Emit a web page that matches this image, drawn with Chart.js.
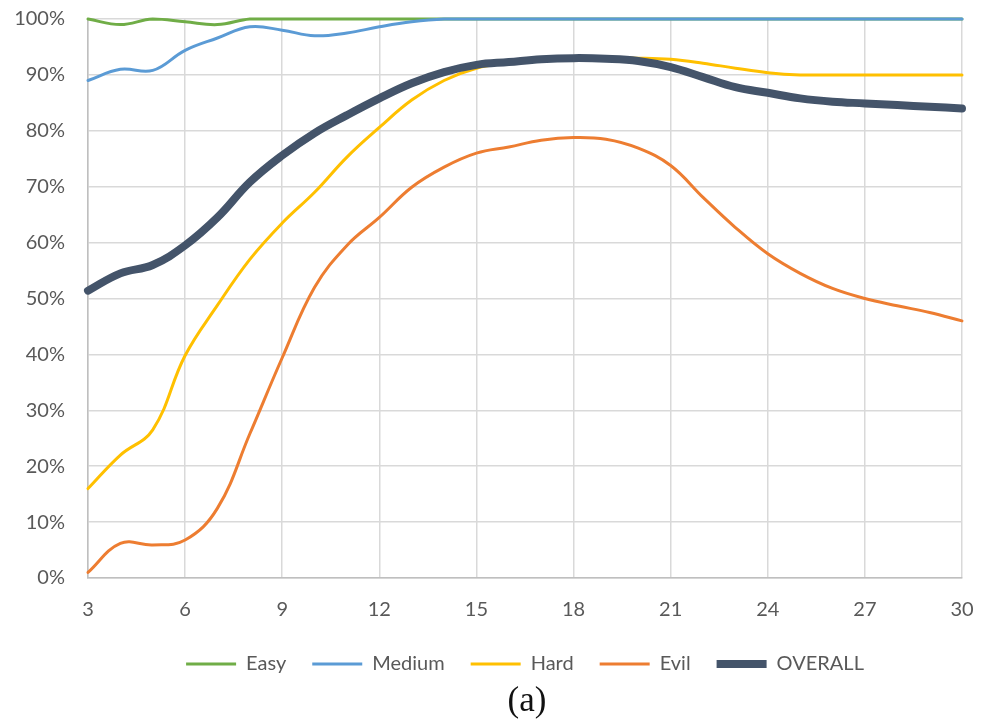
<!DOCTYPE html>
<html>
<head>
<meta charset="utf-8">
<script src="https://cdn.jsdelivr.net/npm/chart.js@4"></script>
<style>
  body { margin: 0; background: #fff; }
  #wrap { position: relative; width: 989px; height: 726px; }
  #box { position: absolute; left: 0; top: 0; width: 989px; height: 684px; }
  #caption { position: absolute; left: 0; width: 1054px; top: 680px; text-align: center;
             font-family: "Liberation Serif", "DejaVu Serif", serif; font-size: 35px; color: #111; }
</style>
</head>
<body>
<div id="wrap">
  <div id="box"><canvas id="chart"></canvas></div>
  <div id="caption">(a)</div>
</div>
<script>
// x values (3..30)
const xs = [3,4,5,6,7,8,9,10,11,12,13,14,15,16,17,18,19,20,21,22,23,24,25,26,27,28,29,30];

// percentages
const easy    = [100,99,100,99.5,99,100,100,100,100,100,100,100,100,100,100,100,100,100,100,100,100,100,100,100,100,100,100,100];
const medium  = [89,91,90.8,94.4,96.6,98.6,98,97,97.5,98.6,99.5,100,100,100,100,100,100,100,100,100,100,100,100,100,100,100,100,100];
const hard    = [16,22,26.5,39.8,48.8,57,63.5,69,75.3,80.6,85.5,89,91.2,92.1,92.6,93,93,93,92.8,92.1,91.2,90.4,90,90,90,90,90,90];
const evil    = [1,6.2,5.9,6.8,12.5,25.8,39.4,52,59.5,64.5,69.9,73.5,76,77.1,78.3,78.8,78.5,76.9,73.8,68.1,62.7,58,54.5,51.8,50,48.7,47.5,46];
const overall = [51.4,54.5,56,59.5,64.5,70.8,75.6,79.6,82.8,85.8,88.5,90.5,91.8,92.3,92.8,93,92.9,92.5,91.4,89.6,87.8,86.8,85.8,85.2,84.9,84.6,84.3,84];

const tickFont = { family: "Lato, 'Open Sans', sans-serif", size: 20 };
const textColor = '#595959';

function pts(arr) {
  return xs.map((x, i) => ({ x: x, y: arr[i] }));
}

function line(label, arr, color, width) {
  return {
    label: label,
    data: pts(arr),
    borderColor: color,
    backgroundColor: color,
    borderWidth: width,
    borderCapStyle: 'round',
    borderJoinStyle: 'round',
    pointRadius: 0,
    tension: 0.4,
    fill: false,
    clip: 6,
    pointStyle: 'line'
  };
}

// listed top-to-bottom in drawing order; the legend is reversed
const datasets = [
  line('OVERALL', overall, '#44546a', 8),
  line('Evil', evil, '#ed7d31', 3),
  line('Hard', hard, '#ffc000', 3),
  line('Medium', medium, '#5b9bd5', 3),
  line('Easy', easy, '#70ad47', 3)
];

new Chart(document.getElementById('chart'), {
  type: 'line',
  data: { datasets: datasets },
  options: {
    responsive: true,
    maintainAspectRatio: false,
    animation: false,
    layout: { padding: { top: 19, right: 27, left: 0, bottom: 0 } },
    plugins: {
      tooltip: { enabled: false },
      legend: {
        position: 'bottom',
        fullSize: false,
        reverse: true,
        labels: {
          usePointStyle: true,
          pointStyleWidth: 50,
          padding: 26,
          color: textColor,
          font: tickFont
        }
      }
    },
    scales: {
      x: {
        type: 'linear',
        min: 3,
        max: 30,
        ticks: { stepSize: 3, color: textColor, font: tickFont, padding: 20 },
        grid: { color: '#d9d9d9', lineWidth: 1.5, drawTicks: false },
        border: { color: '#bfbfbf', width: 1.5 },
        afterFit: (s) => { s.height = 50; s.paddingLeft = 0; s.paddingRight = 0; }
      },
      y: {
        min: 0,
        max: 100,
        ticks: { stepSize: 10, color: textColor, font: tickFont, padding: 23,
                 callback: (v) => v + '%' },
        grid: { color: '#d9d9d9', lineWidth: 1.5, drawTicks: false },
        border: { color: '#bfbfbf', width: 1.5 },
        afterFit: (s) => { s.width = 88; s.paddingTop = 0; s.paddingBottom = 0; }
      }
    }
  }
});
</script>
</body>
</html>
